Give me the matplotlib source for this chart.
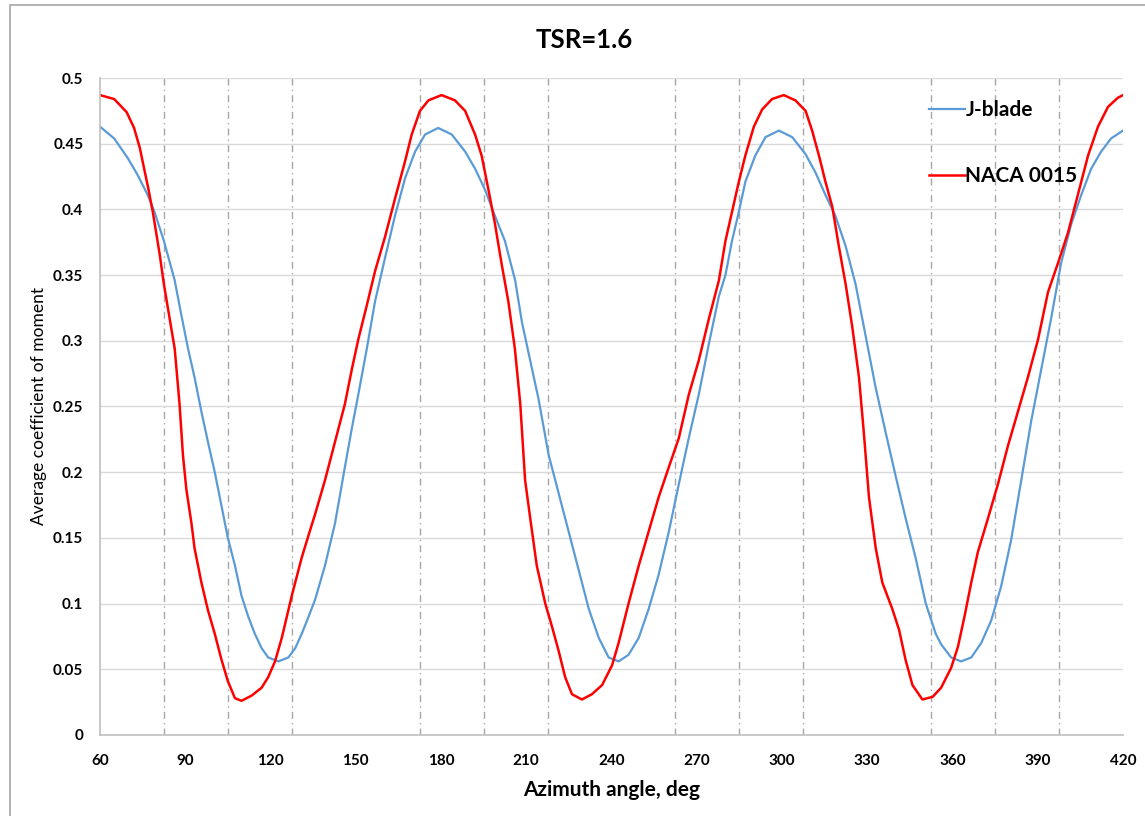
import matplotlib
matplotlib.use("Agg")
import matplotlib.pyplot as plt
from matplotlib.ticker import FixedLocator, MultipleLocator, FuncFormatter
from matplotlib.patches import Rectangle

plt.rcParams['font.family'] = ['Lato', 'DejaVu Sans']

# J-blade: azimuth (deg) and average moment coefficient
jblade_deg = [60, 65, 69.8, 73.3, 76.8, 79.2, 82.5, 86.3, 88.6, 91, 93.3, 95.7, 98,
              100.4, 102.8, 105, 107.5, 109.8, 112.2, 114.5, 116.9, 119.2, 122.8,
              126.3, 128.7, 131, 133.4, 135.7, 139.2, 142.7, 146.2, 148.6, 150.9,
              153.9, 156.8, 160.3, 163.8, 167.4, 170.9, 174.4, 179, 183.8, 188.5,
              192, 195.5, 199, 202.5, 206.1, 208.5, 211.4, 214.3, 217.9, 221.4,
              224.9, 228.4, 232, 235.5, 239, 242.5, 246, 249.6, 253.1, 256.6,
              260.2, 263.7, 267.2, 270.7, 274.3, 277.8, 280.1, 282.4, 284.8, 287.1,
              290.6, 294.2, 298.9, 303.6, 308.3, 311.8, 315.3, 318.8, 322.4, 325.9,
              329.4, 332.9, 336.5, 340, 343.5, 347, 350.6, 354.1, 356, 359.5, 363,
              366.6, 370.1, 373.6, 377.1, 380.6, 384.2, 387.7, 391.2, 394.7, 398.2,
              401.8, 405.3, 408.8, 412.3, 415.8, 420]
jblade_cm = [0.463, 0.454, 0.439, 0.426, 0.411, 0.398, 0.376, 0.346, 0.320, 0.294,
             0.272, 0.246, 0.223, 0.200, 0.174, 0.150, 0.129, 0.106, 0.090, 0.077,
             0.066, 0.059, 0.056, 0.059, 0.066, 0.077, 0.090, 0.103, 0.129, 0.161,
             0.204, 0.233, 0.259, 0.294, 0.330, 0.363, 0.395, 0.424, 0.444, 0.457,
             0.462, 0.457, 0.444, 0.431, 0.415, 0.395, 0.376, 0.346, 0.314, 0.285,
             0.256, 0.213, 0.184, 0.155, 0.126, 0.096, 0.074, 0.059, 0.056, 0.061,
             0.074, 0.096, 0.122, 0.155, 0.191, 0.226, 0.259, 0.298, 0.334, 0.350,
             0.376, 0.398, 0.421, 0.441, 0.455, 0.460, 0.455, 0.442, 0.428, 0.411,
             0.395, 0.372, 0.343, 0.304, 0.265, 0.230, 0.197, 0.165, 0.135, 0.100,
             0.077, 0.069, 0.059, 0.056, 0.059, 0.070, 0.087, 0.113, 0.148, 0.194,
             0.239, 0.278, 0.317, 0.359, 0.389, 0.411, 0.431, 0.444, 0.454, 0.460]

# NACA 0015
naca_deg = [60, 65, 69.4, 72, 74, 77, 78.6, 81, 82.5, 86.3, 88, 89.2, 90.4, 92.2,
            93.3, 95.7, 98, 100.4, 102.8, 105, 107.5, 109.8, 113.4, 116.9, 119.2,
            121.6, 124, 127.5, 131, 133.4, 135.7, 139.2, 142.7, 146.2, 148.6, 150.9,
            153.9, 156.8, 160.3, 163.8, 167.4, 169.7, 172.6, 175.6, 180.2, 184.9,
            188.5, 192, 194.3, 196.7, 199, 201.3, 203.7, 206, 207.9, 209.6, 211.4,
            213.7, 216.7, 219, 221.4, 223.7, 226.1, 229.6, 233.1, 236.7, 240.2,
            242.5, 246, 249.6, 253.1, 256.6, 260.2, 263.7, 267.2, 270.7, 274.3,
            277.8, 280.1, 282.4, 284.8, 287.1, 290.1, 293, 296.5, 300.6, 304.7,
            308.3, 310.6, 313, 315.3, 317.7, 320, 322.4, 324.7, 327.1, 328.8, 330.6,
            333, 335.3, 338.8, 341.2, 343.5, 345.9, 349.4, 353, 356, 359.5, 361.9,
            364.2, 366.6, 368.9, 372.5, 376, 379.5, 383, 386.5, 390.1, 393.6, 397.1,
            400.6, 404.1, 407.7, 411.2, 414.7, 418.2, 420]
naca_cm = [0.487, 0.484, 0.474, 0.462, 0.447, 0.416, 0.398, 0.366, 0.343, 0.294,
           0.252, 0.213, 0.187, 0.161, 0.142, 0.116, 0.095, 0.077, 0.057, 0.041,
           0.028, 0.026, 0.030, 0.036, 0.044, 0.056, 0.074, 0.106, 0.135, 0.152,
           0.168, 0.194, 0.223, 0.252, 0.278, 0.301, 0.327, 0.353, 0.379, 0.408,
           0.437, 0.457, 0.475, 0.483, 0.487, 0.483, 0.475, 0.457, 0.441, 0.415,
           0.389, 0.359, 0.330, 0.294, 0.252, 0.194, 0.165, 0.129, 0.100, 0.083,
           0.064, 0.044, 0.031, 0.027, 0.031, 0.038, 0.053, 0.070, 0.100, 0.129,
           0.155, 0.181, 0.204, 0.226, 0.259, 0.285, 0.317, 0.346, 0.376, 0.398,
           0.421, 0.441, 0.463, 0.476, 0.484, 0.487, 0.483, 0.475, 0.460, 0.441,
           0.421, 0.402, 0.372, 0.343, 0.311, 0.272, 0.230, 0.181, 0.142, 0.116,
           0.096, 0.080, 0.057, 0.038, 0.027, 0.029, 0.036, 0.051, 0.067, 0.090,
           0.116, 0.139, 0.165, 0.191, 0.220, 0.246, 0.272, 0.301, 0.337, 0.359,
           0.382, 0.411, 0.441, 0.463, 0.478, 0.485, 0.487]

fig = plt.figure(figsize=(11.45, 8.16), dpi=100)
fig.patches.append(Rectangle((10 / 1145, -0.05), 1.1, 1.05 - 5 / 816,
                             transform=fig.transFigure, fill=False,
                             edgecolor='#a6a6a6', linewidth=1.2))
ax = fig.add_axes([0.0873, 0.0993, 0.8935, 0.8051])

ax.plot(jblade_deg, jblade_cm, color='#5b9bd5', linewidth=1.6, label='J-blade')
ax.plot(naca_deg, naca_cm, color='#ff0000', linewidth=1.8, label='NACA 0015')

ax.set_xlim(60, 420)
ax.set_ylim(0, 0.5)
ax.xaxis.set_major_locator(MultipleLocator(30))
ax.yaxis.set_major_locator(MultipleLocator(0.05))
ax.yaxis.set_major_formatter(FuncFormatter(lambda v, _: f'{round(v, 2):g}'))
ax.xaxis.set_minor_locator(FixedLocator([82.5 + 22.5 * i for i in range(16)]))
ax.tick_params(which='both', length=0)
ax.tick_params(axis='x', pad=14, labelsize=11)
ax.tick_params(axis='y', pad=12, labelsize=11)
for lbl in ax.get_xticklabels() + ax.get_yticklabels():
    lbl.set_fontweight('bold')

ax.grid(axis='y', which='major', color='#d9d9d9', linewidth=1)
ax.grid(axis='x', which='minor', color='#a6a6a6', linewidth=1,
        linestyle=(0, (5, 3, 1, 3)))
ax.set_axisbelow(True)
for side in ['top', 'right']:
    ax.spines[side].set_visible(False)
for side in ['left', 'bottom']:
    ax.spines[side].set_color('#bfbfbf')
    ax.spines[side].set_linewidth(1.2)

fig.text(0.51, 0.951, 'TSR=1.6', fontsize=18.5, fontweight='bold',
         ha='center', va='center')
ax.set_xlabel('Azimuth angle, deg', fontsize=15, fontweight='bold', labelpad=8)
ax.set_ylabel('Average coefficient of moment', fontsize=12.5, labelpad=4)

leg = ax.legend(loc='upper left', bbox_to_anchor=(0.8, 0.982), frameon=False,
                borderpad=0, handlelength=1.75, handletextpad=0.0,
                labelspacing=2.2, prop={'size': 15, 'weight': 'bold'})

fig.savefig('out.png', dpi=100)
